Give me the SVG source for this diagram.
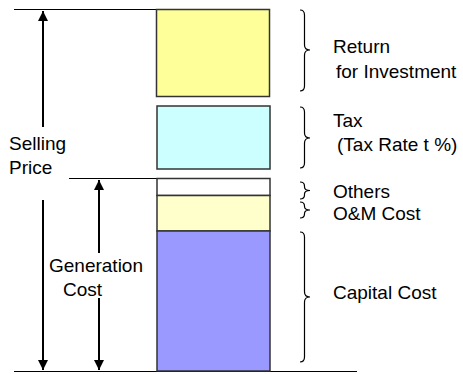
<svg xmlns="http://www.w3.org/2000/svg" width="463" height="374" viewBox="0 0 463 374">
  <defs>
    <marker id="arrowhead" viewBox="0 0 10 10" refX="10" refY="5" markerWidth="5" markerHeight="5" markerUnits="strokeWidth" orient="auto">
      <path d="M0,0 L10,5 L0,10 Z" fill="#000"/>
    </marker>
    <style>
      .bar { stroke: #333; stroke-width: 1.5; }
      .rule { stroke: #000; stroke-width: 1; fill: none; }
      .dim { stroke: #000; stroke-width: 2; fill: none; marker-end: url(#arrowhead); }
      .brace { stroke: #000; stroke-width: 1.2; fill: none; }
      .lbl { font-family: "Liberation Sans", Arial, sans-serif; font-size: 19px; fill: #000; }
    </style>
  </defs>

  <rect width="463" height="374" fill="#fff"/>

  <!-- reference lines -->
  <g id="rules">
    <line class="rule" x1="14" y1="9.5" x2="157" y2="9.5"/>
    <line class="rule" x1="69" y1="178.5" x2="157" y2="178.5"/>
    <line class="rule" x1="14" y1="371.5" x2="357" y2="371.5"/>
  </g>

  <!-- stacked price components -->
  <g id="return">
    <rect class="bar" x="156.5" y="9.5" width="113" height="87" fill="#FFFF99"/>
  </g>
  <g id="tax">
    <rect class="bar" x="157" y="106" width="113" height="63" fill="#CCFFFF"/>
  </g>
  <g id="others">
    <rect class="bar" x="157" y="178.5" width="113" height="17" fill="#FFFFFF"/>
  </g>
  <g id="om-cost">
    <rect class="bar" x="157" y="195.5" width="113" height="35.5" fill="#FFFFCC"/>
  </g>
  <g id="capital-cost">
    <rect class="bar" x="157" y="231" width="113" height="140" fill="#9999FF"/>
  </g>

  <!-- dimension arrows -->
  <g id="connectors">
    <line class="dim" x1="43" y1="127" x2="43" y2="11"/>
    <line class="dim" x1="43" y1="200" x2="43" y2="370"/>
    <line class="dim" x1="99" y1="253" x2="99" y2="180"/>
    <line class="dim" x1="99" y1="298" x2="99" y2="370"/>
  </g>

  <!-- braces -->
  <g id="braces">
    <path class="brace" d="M300,10 Q304.5,10 304.5,15 L304.5,45 Q304.5,50 310,50 Q304.5,50 304.5,55 L304.5,86 Q304.5,91 300,91"/>
    <path class="brace" d="M300,107 Q304.5,107 304.5,112 L304.5,133 Q304.5,138 310,138 Q304.5,138 304.5,143 L304.5,163 Q304.5,168 300,168"/>
    <path class="brace" d="M300,182 Q304.5,182 304.5,186 L304.5,187 Q304.5,190.5 310,190.5 Q304.5,190.5 304.5,194 L304.5,195 Q304.5,199 300,199"/>
    <path class="brace" d="M300,202 Q304.5,202 304.5,206 L304.5,206.5 Q304.5,210 310,210 Q304.5,210 304.5,213.5 L304.5,214 Q304.5,218 300,218"/>
    <path class="brace" d="M300,232 Q304.5,232 304.5,237 L304.5,292 Q304.5,297 310,297 Q304.5,297 304.5,302 L304.5,357 Q304.5,362 300,362"/>
  </g>

  <!-- labels -->
  <g id="labels">
    <text class="lbl" x="9" y="150">Selling</text>
    <text class="lbl" x="9" y="174">Price</text>
    <text class="lbl" x="49" y="272">Generation</text>
    <text class="lbl" x="63" y="296">Cost</text>
    <text class="lbl" x="333" y="53">Return</text>
    <text class="lbl" x="336" y="78">for Investment</text>
    <text class="lbl" x="333" y="127">Tax</text>
    <text class="lbl" x="337" y="151">(Tax Rate t %)</text>
    <text class="lbl" x="333" y="198">Others</text>
    <text class="lbl" x="333" y="220">O&amp;M Cost</text>
    <text class="lbl" x="333" y="299">Capital Cost</text>
  </g>
</svg>
